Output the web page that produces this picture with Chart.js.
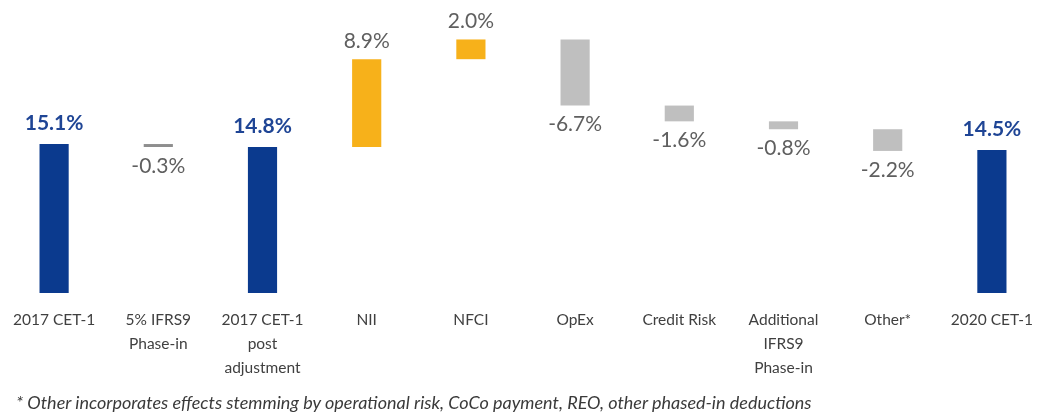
<!DOCTYPE html>
<html>
<head>
<meta charset="utf-8">
<script src="https://cdn.jsdelivr.net/npm/chart.js@4/dist/chart.umd.min.js"></script>
<style>
  html, body { margin: 0; padding: 0; background: #ffffff; overflow: hidden; }
  #wrap { position: relative; width: 1046px; height: 416px; }
  #note {
    position: absolute; left: 16px; top: 391px;
    font: italic 18px Lato, "Open Sans", sans-serif; color: #3a3a3a;
    white-space: nowrap;
  }
</style>
</head>
<body>
<div id="wrap">
  <canvas id="c" width="1046" height="416"></canvas>
  <div id="note">* Other incorporates effects stemming by operational risk, CoCo payment, REO, other phased-in deductions</div>
</div>
<script>
// CET-1 bridge, 2017 -> 2020 (percent of RWA)
const categories = [
  '2017 CET-1', ['5% IFRS9', 'Phase-in'], ['2017 CET-1', 'post', 'adjustment'],
  'NII', 'NFCI', 'OpEx', 'Credit Risk', ['Additional', 'IFRS9', 'Phase-in'],
  'Other*', '2020 CET-1'
];
// 'total' bars start at zero; 'delta' bars float from the running level
const kinds  = ['total', 'delta', 'total', 'delta', 'delta', 'delta', 'delta', 'delta', 'delta', 'total'];
const values = [15.1, -0.3, 14.8, 8.9, 2.0, -6.7, -1.6, -0.8, -2.2, 14.5];

const BLUE = '#0b3a8e', ORANGE = '#f7b11a', GREY = '#bfbfbf', GREY_THIN = '#8e8e8e';

// build floating [start, end] ranges from the values
const ranges = [];
let level = 0;
values.forEach((v, i) => {
  if (kinds[i] === 'total') { ranges.push([0, v]); level = v; }
  else { ranges.push([level, +(level + v).toFixed(2)]); level = +(level + v).toFixed(2); }
});
// very small steps read better as a darker hairline
const colors = values.map((v, i) => kinds[i] === 'total' ? BLUE
  : (v >= 0 ? ORANGE : (Math.abs(v) < 0.5 ? GREY_THIN : GREY)));

const valueLabels = {
  id: 'valueLabels',
  afterDatasetsDraw(chart) {
    const { ctx } = chart;
    const meta = chart.getDatasetMeta(0);
    const y = chart.scales.y;
    ctx.save();
    ctx.textAlign = 'center';
    ctx.textBaseline = 'middle';
    meta.data.forEach((bar, i) => {
      const v = values[i];
      const [a, b] = ranges[i];
      const txt = v.toFixed(1) + '%';
      if (kinds[i] === 'total') {
        ctx.font = 'bold 21px Lato, "Open Sans", sans-serif';
        ctx.fillStyle = '#1f4595';
        ctx.fillText(txt, bar.x, y.getPixelForValue(Math.max(a, b)) - 21);
      } else {
        ctx.font = '21px Lato, "Open Sans", sans-serif';
        ctx.fillStyle = '#5f5f5f';
        if (v >= 0) ctx.fillText(txt, bar.x, y.getPixelForValue(Math.max(a, b)) - 18);
        else ctx.fillText(txt, bar.x, y.getPixelForValue(Math.min(a, b)) + 19);
      }
    });
    ctx.restore();
  }
};

new Chart(document.getElementById('c'), {
  type: 'bar',
  data: {
    labels: categories,
    datasets: [{
      data: ranges,
      backgroundColor: colors,
      borderWidth: 0,
      borderSkipped: false,
      categoryPercentage: 1,
      barPercentage: 0.28
    }]
  },
  options: {
    responsive: false,
    animation: false,
    layout: { padding: { left: 2, right: 2, top: 0, bottom: 0 } },
    plugins: { legend: { display: false }, tooltip: { enabled: false } },
    scales: {
      y: { display: false, min: 0, max: 29.7 },
      x: {
        grid: { display: false },
        border: { display: false },
        ticks: {
          color: '#404040',
          padding: 7,
          maxRotation: 0,
          autoSkip: false,
          font: { family: 'Lato, "Open Sans", sans-serif', size: 15.5, lineHeight: 1.55 }
        },
        afterFit(scale) { scale.height = 123; }
      }
    }
  },
  plugins: [valueLabels]
});
</script>
</body>
</html>
